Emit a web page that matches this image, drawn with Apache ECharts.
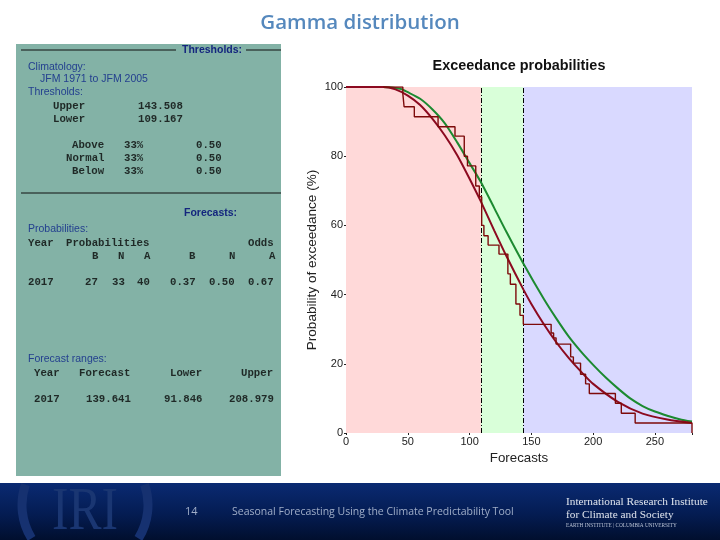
<!DOCTYPE html>
<html><head><meta charset="utf-8">
<script src="https://cdn.jsdelivr.net/npm/echarts@6/dist/echarts.min.js"></script>
<style>html,body{margin:0;padding:0;background:#fff}#c{width:720px;height:540px}</style>
</head><body><div id="c"></div>
<script>
const thresholds = [109.167, 143.508];
const xMax = 280;
const xTicks = [0, 50, 100, 150, 200, 250];
const yTicks = [0, 20, 40, 60, 80, 100];
const climatologyCurve = [[0,100],[30,100],[43.7,99.5],[50,98.5],[60,96.6],[70,93.5],[80,89.5],[90,84],[100,78],[109,72.6],[120,65],[130,58],[143.5,49],[160,38.8],[170,33.2],[180,28],[190,23.6],[200,19.7],[210,16.1],[220,12.9],[230,10],[240,7.8],[250,6.2],[260,5],[270,4],[280,3.3]];
const forecastCurve = [[0,100],[30,100],[40,99.3],[50,97.5],[60,94.8],[70,90.8],[80,86],[90,80.3],[100,73.5],[109,67],[120,58.5],[130,51],[143.5,41.5],[150,37.3],[160,31.5],[170,26.3],[180,21.8],[190,17.8],[200,14.2],[220,9],[240,5.6],[260,3.9],[280,2.9]];
const empiricalSteps = [[30,100],[46,98],[47,94.3],[55.3,91.4],[74.5,88.5],[88.2,85.8],[95.7,80],[98.3,77.2],[105,71.4],[107.9,68.3],[109.8,60],[111.6,57],[115,54.3],[123.8,51.7],[131,46],[133,43],[137.5,37.3],[140.8,34],[143.5,31.4],[166,28.9],[168,27.5],[170,25.7],[181.8,22],[184,20.2],[189.8,17],[193.9,14.2],[196.9,11.4],[218,8.6],[222.8,5.7],[234,2.9],[280,0]];
const pageTitle = "Gamma distribution";
const chartTitle = "Exceedance probabilities";
const xName = "Forecasts";
const yName = "Probability of exceedance (%)";
const footerNumber = "14";
const footerText = "Seasonal Forecasting Using the Climate Predictability Tool";
const logoLines = ["International Research Institute", "for Climate and Society", "EARTH INSTITUTE | COLUMBIA UNIVERSITY"];
const panelHeadings = ["Thresholds:", "Forecasts:"];
const panelLabels = ["Climatology:", "JFM 1971 to JFM 2005", "Thresholds:", "Probabilities:", "Forecast ranges:"];
const thresholdRows = ["Upper", "143.508", "Lower", "109.167"];
const categoryRows = ["Above", "33%", "0.50", "Normal", "33%", "0.50", "Below", "33%", "0.50"];
const probHeader = ["Year", "Probabilities", "Odds", "B", "N", "A", "B", "N", "A"];
const probRow = ["2017", "27", "33", "40", "0.37", "0.50", "0.67"];
const rangeHeader = ["Year", "Forecast", "Lower", "Upper"];
const rangeRow = ["2017", "139.641", "91.846", "208.979"];

const mono = (s, x, y) => ({type:'text', z:3, style:{text:s, x, y, fill:'#141a18', font:'bold 10.7px "Liberation Mono"', textVerticalAlign:'middle', opacity:.9}});
const blue = (s, x, y) => ({type:'text', z:3, style:{text:s, x, y, fill:'#24408f', font:'10.5px "Liberation Sans"', textVerticalAlign:'middle'}});
const head = (s, x, y) => ({type:'text', z:3, style:{text:s, x, y, fill:'#14267e', font:'bold 10.5px "Liberation Sans"', textVerticalAlign:'middle'}});
const rule = (x1, x2, y) => ({type:'line', z:3, shape:{x1, y1:y, x2, y2:y}, style:{stroke:'#111', lineWidth:1}});

const panel = [
  {type:'rect', z:1, shape:{x:16, y:44, width:265, height:432}, style:{fill:'#83b2a6'}},
  rule(21,176,50), rule(246,281,50), rule(21,281,193),
  head(panelHeadings[0],182,50), head(panelHeadings[1],184,213),
  blue(panelLabels[0],28,67), blue(panelLabels[1],40,79), blue(panelLabels[2],28,92), blue(panelLabels[3],28,229), blue(panelLabels[4],28,359),
  mono(thresholdRows[0],53,106), mono(thresholdRows[1],138,106), mono(thresholdRows[2],53,119), mono(thresholdRows[3],138,119),
  mono(categoryRows[0],72,145), mono(categoryRows[1],124,145), mono(categoryRows[2],196,145),
  mono(categoryRows[3],66,158), mono(categoryRows[4],124,158), mono(categoryRows[5],196,158),
  mono(categoryRows[6],72,171), mono(categoryRows[7],124,171), mono(categoryRows[8],196,171),
  mono(probHeader[0],28,243), mono(probHeader[1],66,243), mono(probHeader[2],248,243),
  mono(probHeader[3],92,256), mono(probHeader[4],118,256), mono(probHeader[5],144,256),
  mono(probHeader[6],189,256), mono(probHeader[7],229,256), mono(probHeader[8],269,256),
  mono(probRow[0],28,282), mono(probRow[1],85,282), mono(probRow[2],112,282), mono(probRow[3],137,282),
  mono(probRow[4],170,282), mono(probRow[5],209,282), mono(probRow[6],248,282),
  mono(rangeHeader[0],34,373), mono(rangeHeader[1],79,373), mono(rangeHeader[2],170,373), mono(rangeHeader[3],241,373),
  mono(rangeRow[0],34,399), mono(rangeRow[1],86,399), mono(rangeRow[2],164,399), mono(rangeRow[3],229,399)
];
const footer = [
  {type:'rect', z:1, shape:{x:0, y:483, width:720, height:57}, style:{fill:new echarts.graphic.LinearGradient(0,0,0,1,[{offset:0,color:'#0a2a72'},{offset:.55,color:'#041c52'},{offset:1,color:'#010f2e'}])}},
  {type:'arc', z:2, shape:{cx:85, cy:505, r:63, startAngle:148*Math.PI/180, endAngle:199*Math.PI/180}, style:{stroke:'#163170', fill:'none', lineWidth:9}},
  {type:'arc', z:2, shape:{cx:85, cy:505, r:63, startAngle:-19*Math.PI/180, endAngle:32*Math.PI/180}, style:{stroke:'#163170', fill:'none', lineWidth:9}},
  {type:'text', z:2, x:85, y:513, scaleX:.8, style:{text:'IRI', x:0, y:0, fill:'#1a3672', font:'62px "Liberation Serif"', textAlign:'center', textVerticalAlign:'middle'}},
  {type:'text', z:3, style:{text:footerNumber, x:185, y:512, fill:'#a0aec8', font:'11px "Open Sans"', textVerticalAlign:'middle'}},
  {type:'text', z:3, style:{text:footerText, x:232, y:512, fill:'#a0aec8', font:'10.5px "Open Sans"', textVerticalAlign:'middle'}},
  {type:'text', z:3, style:{text:logoLines[0], x:566, y:502, fill:'#dfe4ed', font:'11.3px "Liberation Serif"', textVerticalAlign:'middle'}},
  {type:'text', z:3, style:{text:logoLines[1], x:566, y:515, fill:'#dfe4ed', font:'11.3px "Liberation Serif"', textVerticalAlign:'middle'}},
  {type:'text', z:3, style:{text:logoLines[2], x:566, y:526, fill:'#b9c2d4', font:'5.3px "Liberation Serif"', textVerticalAlign:'middle'}}
];

const chart = echarts.init(document.getElementById('c'), null, {renderer:'canvas'});
const font = 'Liberation Sans';
const labelStyle = {fontFamily:font, fontSize:11, color:'#222', margin:3};
chart.setOption({
  animation:false,
  backgroundColor:'#fff',
  title:[
    {text:pageTitle, left:355, top:8, textAlign:'center', textStyle:{fontFamily:'Open Sans', fontSize:20.5, fontWeight:600, color:'#5588bd'}},
    {text:chartTitle, left:514, top:54, textAlign:'center', textStyle:{fontFamily:font, fontSize:14.4, fontWeight:'bold', color:'#111'}}
  ],
  grid:{left:346, top:87, width:346, height:346, containLabel:false},
  xAxis:[
    {type:'value', min:0, max:xMax, interval:50, name:xName, nameLocation:'middle', nameGap:16,
     nameTextStyle:{fontFamily:font, fontSize:13.3, color:'#222'}, axisLabel:{...labelStyle, showMaxLabel:false,
       formatter:v=>xTicks.includes(v)?String(v):''}, axisLine:{show:false}, axisTick:{show:true,length:2,lineStyle:{color:'#222'}}, splitLine:{show:false}},
    {type:'value', position:'top', min:0, max:xMax, interval:50, axisLabel:{show:false}, axisLine:{show:false},
     axisTick:{show:true,inside:true,length:2,lineStyle:{color:'#222'}}, splitLine:{show:false}}
  ],
  yAxis:[
    {type:'value', min:0, max:100, interval:20, name:yName, nameLocation:'middle', nameGap:27,
     nameTextStyle:{fontFamily:font, fontSize:13.6, color:'#222'}, axisLabel:{...labelStyle, formatter:v=>yTicks.includes(v)?String(v):''},
     axisLine:{show:false}, axisTick:{show:true,length:2,lineStyle:{color:'#222'}}, splitLine:{show:false}},
    {type:'value', position:'right', min:0, max:100, interval:20, axisLabel:{show:false}, axisLine:{show:false},
     axisTick:{show:true,inside:true,length:2,lineStyle:{color:'#222'}}, splitLine:{show:false}}
  ],
  graphic:{elements:[...panel, ...footer]},
  series:[
    {type:'line', name:'Climatology', data:climatologyCurve, smooth:0.25, showSymbol:false, z:5, lineStyle:{color:'#1c8a30', width:2},
     markArea:{silent:true, z:1, data:[
       [{xAxis:0, itemStyle:{color:'#ffd9d9'}},{xAxis:thresholds[0]}],
       [{xAxis:thresholds[0], itemStyle:{color:'#d9ffd9'}},{xAxis:thresholds[1]}],
       [{xAxis:thresholds[1], itemStyle:{color:'#d9d9ff'}},{xAxis:xMax}]
     ]},
     markLine:{silent:true, symbol:'none', z:2, label:{show:false}, lineStyle:{color:'#000', width:1, type:[5,2,1,2]},
       data:thresholds.map(t=>({xAxis:t}))}},
    {type:'line', name:'Forecast', data:forecastCurve, smooth:0.25, showSymbol:false, z:6, lineStyle:{color:'#8c0a20', width:2}},
    {type:'line', name:'Observed', data:empiricalSteps, step:'end', showSymbol:false, z:7, lineStyle:{color:'#7d0a0a', width:1.4}}
  ]
});
</script></body></html>
